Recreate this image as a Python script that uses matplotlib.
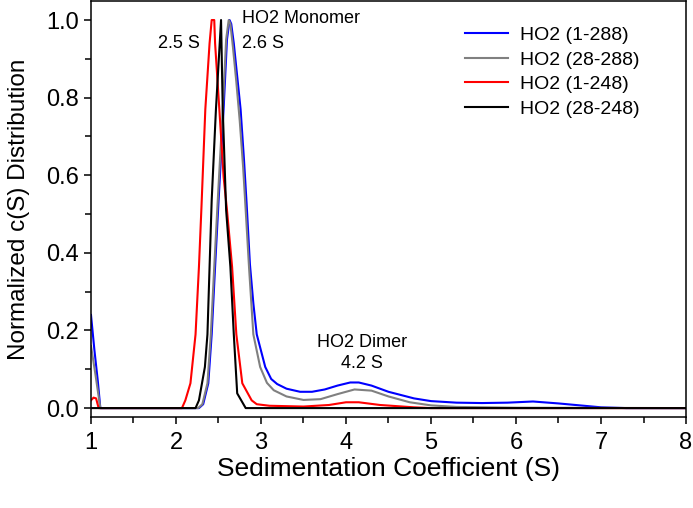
import numpy as np
import matplotlib
matplotlib.use("Agg")
import matplotlib.pyplot as plt
from matplotlib.ticker import MultipleLocator

plt.rcParams['font.family'] = ['Liberation Sans', 'DejaVu Sans']

# c(S) curves (sedimentation coefficient, normalized c(S))
s_1_288 = [1.0, 1.04, 1.08, 1.11, 2.27, 2.32, 2.38, 2.42, 2.46, 2.50, 2.56, 2.60, 2.63, 2.65,
           2.68, 2.72, 2.76, 2.80, 2.83, 2.87, 2.91, 2.95, 3.05, 3.12, 3.19, 3.3, 3.46, 3.6,
           3.75, 3.9, 4.05, 4.15, 4.3, 4.5, 4.8, 5.0, 5.3, 5.6, 5.9, 6.2, 6.5, 6.8, 7.0, 7.3, 8.0]
c_1_288 = [0.24, 0.15, 0.07, 0.0, 0.0, 0.01, 0.064, 0.19, 0.364, 0.53, 0.77, 0.95, 1.0, 0.99,
           0.94, 0.855, 0.77, 0.64, 0.53, 0.37, 0.27, 0.19, 0.106, 0.075, 0.062, 0.05, 0.042, 0.042,
           0.048, 0.058, 0.066, 0.066, 0.058, 0.042, 0.025, 0.018, 0.014, 0.013, 0.014, 0.017, 0.012, 0.006, 0.002, 0.0, 0.0]

s_28_288 = [1.0, 1.05, 1.11, 2.26, 2.31, 2.37, 2.41, 2.45, 2.49, 2.55, 2.59, 2.62, 2.64,
            2.67, 2.71, 2.75, 2.79, 2.82, 2.86, 2.91, 2.99, 3.07, 3.15, 3.3, 3.5, 3.7,
            3.9, 4.1, 4.3, 4.5, 4.75, 5.0, 5.3, 6.0, 8.0]
c_28_288 = [0.16, 0.09, 0.0, 0.0, 0.01, 0.064, 0.19, 0.364, 0.53, 0.77, 0.95, 1.0, 0.99,
            0.93, 0.84, 0.74, 0.62, 0.51, 0.36, 0.19, 0.106, 0.065, 0.046, 0.03, 0.021, 0.023,
            0.036, 0.048, 0.045, 0.03, 0.015, 0.007, 0.003, 0.001, 0.0]

s_1_248 = [1.0, 1.03, 1.06, 1.09, 2.07, 2.11, 2.17, 2.23, 2.27, 2.30, 2.345, 2.395, 2.42, 2.45,
           2.46, 2.51, 2.56, 2.60, 2.66, 2.71, 2.78, 2.89, 2.95, 3.1, 3.5, 3.8, 4.0, 4.15, 4.4,
           4.8, 5.0, 8.0]
c_1_248 = [0.02, 0.027, 0.025, 0.0, 0.0, 0.02, 0.064, 0.19, 0.364, 0.52, 0.77, 0.94, 1.0, 1.0,
           0.94, 0.77, 0.596, 0.51, 0.364, 0.19, 0.064, 0.02, 0.01, 0.006, 0.004, 0.008, 0.015, 0.015, 0.008,
           0.002, 0.0, 0.0]

s_28_248 = [1.0, 2.23, 2.27, 2.34, 2.37, 2.395, 2.42, 2.47, 2.53, 2.55, 2.59, 2.64, 2.68, 2.72, 2.82, 8.0]
c_28_248 = [0.0, 0.0, 0.02, 0.106, 0.19, 0.364, 0.536, 0.77, 1.0, 0.77, 0.51, 0.364, 0.19, 0.038, 0.0, 0.0]

series = [
    ("HO2 (1-288)", s_1_288, c_1_288, "#0000ff"),
    ("HO2 (28-288)", s_28_288, c_28_288, "#808080"),
    ("HO2 (1-248)", s_1_248, c_1_248, "#ff0000"),
    ("HO2 (28-248)", s_28_248, c_28_248, "#000000"),
]

fig = plt.figure(figsize=(6.93, 5.08), dpi=100)
ax = fig.add_axes([0.1313, 0.1791, 0.8586, 0.8189])

for label, s, c, col in series:
    ax.plot(s, c, color=col, lw=1.5, label=label)

ax.set_xlim(1, 8)
ax.set_ylim(-0.023, 1.049)
ax.xaxis.set_major_locator(MultipleLocator(1))
ax.xaxis.set_minor_locator(MultipleLocator(0.5))
ax.yaxis.set_major_locator(MultipleLocator(0.2))
ax.yaxis.set_minor_locator(MultipleLocator(0.1))
ax.yaxis.set_major_formatter(matplotlib.ticker.FormatStrFormatter('%.1f'))
ax.tick_params(which='both', direction='out', width=1.1, labelsize=17)
ax.tick_params(which='major', length=5)
ax.tick_params(which='minor', length=4)
ax.tick_params(axis='x', pad=6)
for sp in ax.spines.values():
    sp.set_linewidth(1.1)

ax.set_xlabel("Sedimentation Coefficient (S)", fontsize=19, labelpad=2)
ax.set_ylabel("Normalized c(S) Distribution", fontsize=17.5, labelpad=12)

ax.text(2.78, 1.005, "HO2 Monomer", fontsize=13, ha='left', va='center')
ax.text(2.286, 0.94, "2.5 S", fontsize=13, ha='right', va='center')
ax.text(2.78, 0.94, "2.6 S", fontsize=13, ha='left', va='center')
ax.text(4.19, 0.168, "HO2 Dimer", fontsize=13, ha='center', va='center')
ax.text(4.19, 0.116, "4.2 S", fontsize=13, ha='center', va='center')

ax.legend(loc='upper left', bbox_to_anchor=(0.6, 0.981), frameon=False, fontsize=14,
          handlelength=2.2, labelspacing=0.36, handletextpad=0.6)

plt.savefig("out.png", dpi=100)
